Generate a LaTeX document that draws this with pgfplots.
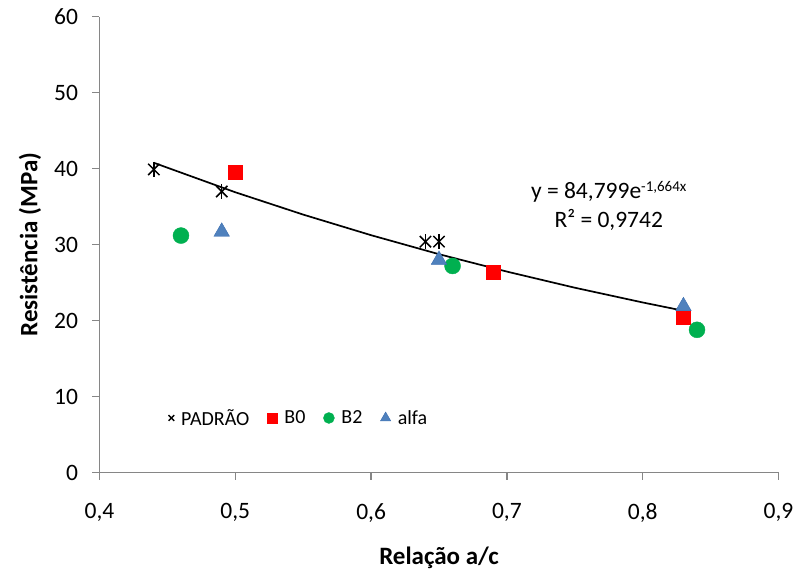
\documentclass[border=0pt]{standalone}
\usepackage{pgfplots}
\pgfplotsset{compat=1.18}
\usepackage{fontspec}
\setmainfont{Carlito}
\definecolor{axgray}{HTML}{868686}
\definecolor{bzero}{HTML}{FF0000}
\definecolor{btwo}{HTML}{00B050}
\definecolor{alfa}{HTML}{4F81BD}
\definecolor{alfaedge}{HTML}{3A6DB0}
\begin{document}
\begin{tikzpicture}
\useasboundingbox (-99.5pt,-104.3pt) rectangle (697.5pt,472.7pt);
\begin{axis}[
  at={(0pt,0pt)}, anchor=south west,
  scale only axis, width=679pt, height=456pt,
  xmin=0.4, xmax=0.9, ymin=0, ymax=60,
  xtick={0.4,0.5,0.6,0.7,0.8,0.9},
  ytick={0,10,20,30,40,50,60},
  axis x line*=bottom, axis y line*=left,
  axis line style={axgray, line width=1.3pt, -},
  tick style={axgray, line width=1.3pt},
  major tick length=7pt,
  tick align=outside,
  ticklabel style={font=\fontsize{23.5}{28}\selectfont},
  yticklabel style={xshift=-11pt},
  xticklabel style={yshift=-20pt, /pgf/number format/fixed, /pgf/number format/fixed zerofill, /pgf/number format/precision=1},
  /pgf/number format/assume math mode=true,
  /pgf/number format/use comma,
  xlabel={\bfseries Relação a/c},
  ylabel={\bfseries Resistência (MPa)},
  label style={font=\fontsize{25}{30}\selectfont},
  xlabel style={at={(axis description cs:0.5,-0.187)}, anchor=center},
  ylabel style={at={(axis description cs:-0.1025,0.5)}, anchor=center},
  legend style={at={(axis description cs:0.097,0.12)}, anchor=west, draw=none, fill=none,
    font=\fontsize{20}{24}\selectfont, legend columns=4,
    /tikz/every odd column/.append style={column sep=5pt},
    /tikz/every even column/.append style={column sep=16pt}},
  legend cell align=left,
  clip=false,
]
\addplot[only marks, mark=x, mark size=8pt, black, line width=1.5pt, forget plot] coordinates {
(0.44,39.9) (0.49,37.0) (0.64,30.4) (0.65,30.4)};
\addplot[only marks, mark=|, mark size=7.5pt, black, line width=1.5pt, forget plot] coordinates {
(0.44,39.9) (0.49,37.0) (0.64,30.4) (0.65,30.4)};
\addplot[only marks, mark=square*, mark size=7pt, draw=bzero, fill=bzero, forget plot] coordinates {
(0.50,39.5) (0.69,26.4) (0.83,20.5)};
\addplot[only marks, mark=*, mark size=8pt, draw=btwo, fill=btwo, forget plot] coordinates {
(0.46,31.2) (0.66,27.2) (0.84,18.8)};
\addplot[only marks, mark=triangle*, mark size=9pt, draw=alfaedge, fill=alfa, forget plot] coordinates {
(0.49,31.7) (0.65,28.0) (0.83,21.9)};
\addplot[black, line width=1.7pt, forget plot] coordinates {
(0.44,40.78) (0.47,38.84) (0.50,36.90) (0.55,33.96) (0.60,31.25) (0.65,28.75) (0.70,26.46) (0.75,24.34) (0.80,22.40) (0.83,21.31)};
\addlegendimage{only marks, mark=x, mark size=4pt, black, line width=1.3pt}
\addlegendentry{PADRÃO}
\addlegendimage{only marks, mark=square*, mark size=5pt, draw=bzero, fill=bzero}
\addlegendentry{B0}
\addlegendimage{only marks, mark=*, mark size=5.5pt, draw=btwo, fill=btwo}
\addlegendentry{B2}
\addlegendimage{only marks, mark=triangle*, mark size=6pt, draw=alfaedge, fill=alfa}
\addlegendentry{alfa}
\node[align=center, font=\fontsize{23.5}{29}\selectfont] at (axis cs:0.775,35.1) {y = 84,799e\raisebox{0.55ex}{\fontsize{15}{15}\selectfont -1,664x}\\R² = 0,9742};
\end{axis}
\end{tikzpicture}
\end{document}
